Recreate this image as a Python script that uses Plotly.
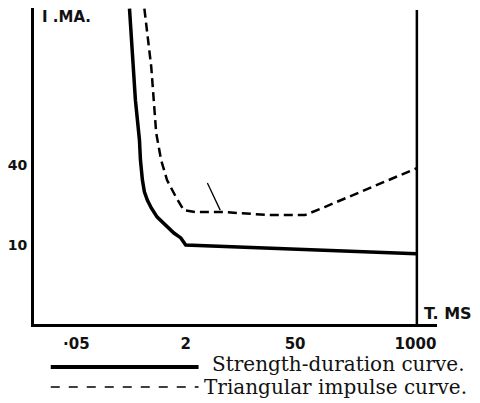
import plotly.graph_objects as go

# Tick labels (time, ms) and their positions along the hand-drawn time axis
x_tick_pos = [0, 1, 2, 3.1]
x_tick_text = ["·05", "2", "50", "1000"]
y_tick_vals = [10, 40]
y_tick_text = ["10", "40"]

# Strength-duration curve (solid)
sd_x = [0.486, 0.54, 0.577, 0.586, 0.604, 0.622, 0.649, 0.685, 0.739, 0.784, 0.829, 0.892, 0.955, 1.0, 3.108]
sd_y = [600, 123, 61.7, 43.6, 30.8, 25.1, 21.8, 19.0, 16.2, 14.9, 13.7, 12.3, 11.3, 10.0, 8.6]

# Triangular impulse curve (dashed)
ti_x = [0.622, 0.685, 0.730, 0.775, 0.829, 0.910, 0.982, 1.090, 1.342, 1.766, 2.09, 2.27, 3.117]
ti_y = [600, 218, 69.6, 43.6, 30.8, 23.0, 18.3, 17.7, 17.7, 16.8, 16.8, 19.3, 38.0]

fig = go.Figure()
fig.add_trace(go.Scatter(x=sd_x, y=sd_y, mode="lines", name="Strength-duration curve.",
                         line=dict(color="black", width=3.5)))
fig.add_trace(go.Scatter(x=ti_x, y=ti_y, mode="lines", name="Triangular impulse curve.",
                         line=dict(color="black", width=2.5, dash="9px,5px")))

tick_font = dict(family="DejaVu Sans", size=15, color="#111111", weight="bold")

fig.update_layout(
    width=480, height=403, autosize=False,
    margin=dict(l=28, r=43, t=8, b=79, pad=0),
    paper_bgcolor="white", plot_bgcolor="white",
    showlegend=False,
    xaxis=dict(range=[-0.387, 3.297], showgrid=False, zeroline=False,
               showline=True, linecolor="black", linewidth=3,
               tickvals=x_tick_pos, ticktext=x_tick_text,
               ticks="outside", ticklen=4, tickcolor="rgba(0,0,0,0)",
               tickfont=tick_font),
    yaxis=dict(type="log", range=[0.4056, 2.783], showgrid=False, zeroline=False,
               showline=True, linecolor="black", linewidth=3,
               tickvals=y_tick_vals, ticktext=y_tick_text,
               ticks="outside", ticklen=1, tickcolor="rgba(0,0,0,0)",
               tickfont=dict(family="DejaVu Sans", size=14, color="#111111", weight="bold")),
)

# right-hand frame line
fig.add_shape(type="line", xref="x", yref="paper", x0=3.113, x1=3.113, y0=0, y1=0.994,
              line=dict(color="black", width=2.5))
# small pointer stroke
fig.add_shape(type="line", xref="x", yref="y", x0=1.198, x1=1.315, y0=29.3, y1=18.3,
              line=dict(color="black", width=1.3))

# axis titles
fig.add_annotation(text="I .MA.", xref="paper", yref="paper", x=0.015, y=0.971,
                   xanchor="left", yanchor="middle", showarrow=False,
                   font=dict(family="DejaVu Sans", size=15, color="#111111", weight="bold"))
fig.add_annotation(text="T. MS", xref="paper", yref="paper", x=(422 - 28) / 409, y=(324 - 313) / 316,
                   xanchor="left", yanchor="middle", showarrow=False,
                   font=dict(family="DejaVu Sans", size=16, color="#111111", weight="bold"))

# hand-made key below the chart
def px_x(p):
    return (p - 28) / 409

def px_y(p):
    return (324 - p) / 316

fig.add_shape(type="line", xref="paper", yref="paper", x0=px_x(45), x1=px_x(195),
              y0=px_y(367), y1=px_y(367), line=dict(color="black", width=4))
fig.add_shape(type="line", xref="paper", yref="paper", x0=px_x(45), x1=px_x(195),
              y0=px_y(387), y1=px_y(387), line=dict(color="black", width=1.5, dash="9px,9px"))
fig.add_annotation(text="Strength-duration curve.", xref="paper", yref="paper",
                   x=px_x(207), y=px_y(364), xanchor="left", yanchor="middle", showarrow=False,
                   font=dict(family="DejaVu Serif", size=20, color="#111111"))
fig.add_annotation(text="Triangular impulse curve.", xref="paper", yref="paper",
                   x=px_x(199), y=px_y(387), xanchor="left", yanchor="middle", showarrow=False,
                   font=dict(family="DejaVu Serif", size=20, color="#111111"))

fig.write_html("out.html")
